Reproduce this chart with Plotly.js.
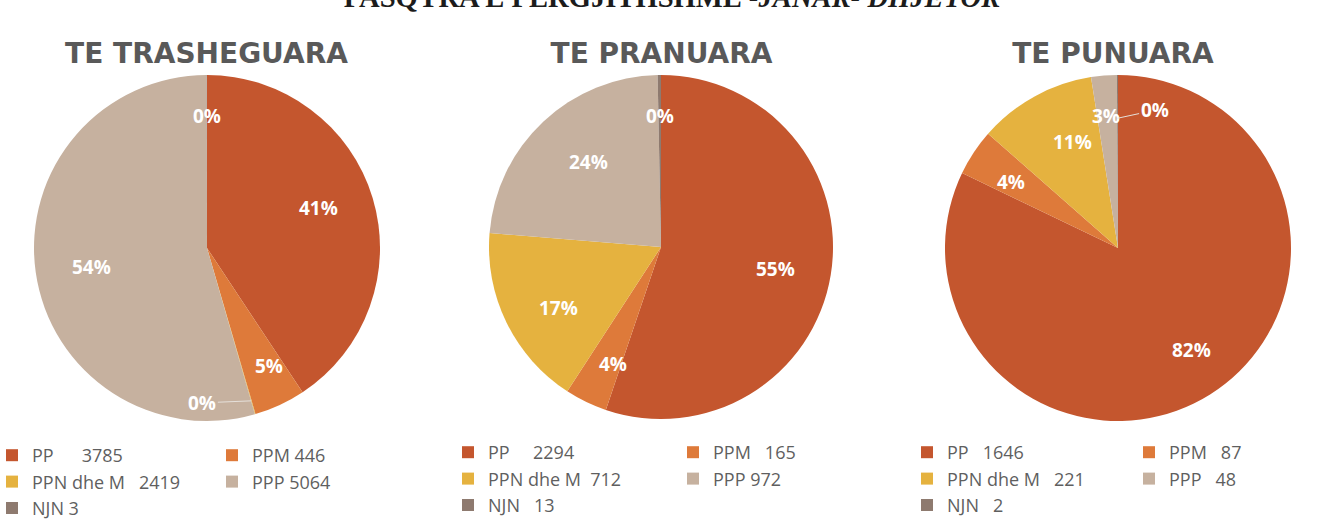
<!DOCTYPE html>
<html>
<head>
<meta charset="utf-8">
<script src="https://cdn.plot.ly/plotly-3.0.1.min.js"></script>
<style>
  html, body { margin:0; padding:0; width:1330px; height:520px; overflow:hidden; background:#ffffff; position:relative; }
  .chart { position:absolute; top:0; height:520px; }
  #c1 { left:-8px; width:456px; }
  #c2 { left:448px; width:480px; }
  #c3 { left:907px; width:460px; }
  #head { position:absolute; left:0; width:1344px; top:-16px; text-align:center;
          font-family:"Liberation Serif", serif; font-weight:bold; font-size:28.6px; line-height:28px;
          color:#1c1c1c; white-space:nowrap; }
</style>
</head>
<body>
<div id="head">PASQYRA E PERGJITHSHME <i>-JANAR- DHJETOR</i></div>
<div id="c1" class="chart"></div>
<div id="c2" class="chart"></div>
<div id="c3" class="chart"></div>
<script>
// ---- data ----
const categories = ["PP", "PPM", "PPN dhe M", "PPP", "NJN"];
const chartTitles = ["TE TRASHEGUARA", "TE PRANUARA", "TE PUNUARA"];

// TE TRASHEGUARA
const trasheguaraLegendValues = [3785, 446, 2419, 5064, 3];
// the pie itself shows PPN dhe M only as a ~0% sliver (41% / 5% / 54% add up without it)
const trasheguaraPieValues = [3785, 446, 5, 5064, 3];
const trasheguaraPct = ["41%", "5%", "0%", "54%", "0%"];
const trasheguaraGaps = [6, 1, 3, 1, 1];

// TE PRANUARA
const pranuaraValues = [2294, 165, 712, 972, 13];
const pranuaraPct = ["55%", "4%", "17%", "24%", "0%"];
const pranuaraGaps = [5, 3, 2, 1, 3];

// TE PUNUARA
const punuaraValues = [1646, 87, 221, 48, 2];
const punuaraPct = ["82%", "4%", "11%", "3%", "0%"];
const punuaraGaps = [3, 3, 3, 3, 3];

// ---- styles ----
const sliceColors = ["#C4562E", "#DE7A3A", "#E5B23F", "#C6B19F", "#8E7A6F"];
const NB = "\u00a0";
const H = 520;

function legendLabels(vals, gaps) {
  return categories.map((c, i) => c + NB.repeat(gaps[i]) + vals[i]);
}

// percentage labels placed along each slice's mid-angle (like the original's data labels)
function labelAnnotations(cfg) {
  const W = cfg.width;
  const cx = W * (cfg.dx[0] + cfg.dx[1]) / 2;
  const cy = H * (1 - (cfg.dy[0] + cfg.dy[1]) / 2);
  const r = Math.min(W * (cfg.dx[1] - cfg.dx[0]), H * (cfg.dy[1] - cfg.dy[0])) / 2;
  const total = cfg.values.reduce((a, b) => a + b, 0);
  let cum = 0;
  const anns = [];
  cfg.values.forEach((v, i) => {
    const frac = v / total;
    const mid = (cum + v / 2) / total * 2 * Math.PI;
    cum += v;
    const leader = cfg.leaders[i];
    const f = leader ? leader.f : (frac < 0.06 ? 0.85 : 0.8);
    const px = cx + f * r * Math.sin(mid);
    const py = cy - f * r * Math.cos(mid);
    const a = {
      x: px / W, y: 1 - py / H, xref: "paper", yref: "paper",
      text: cfg.pct[i], showarrow: false,
      font: { family: "Open Sans", size: 19, color: "#ffffff", weight: "bold" }
    };
    if (leader) {
      a.showarrow = true; a.arrowhead = 0; a.arrowwidth = 1;
      a.arrowcolor = "#e6e0da"; a.ax = leader.ax; a.ay = leader.ay;
    }
    anns.push(a);
  });
  return anns;
}

function makeChart(div, cfg) {
  const trace = {
    type: "pie",
    values: cfg.values,
    labels: legendLabels(cfg.legendValues, cfg.gaps),
    textinfo: "none",
    sort: false,
    direction: "clockwise",
    rotation: 0,
    marker: { colors: sliceColors, line: { width: 0 } },
    domain: { x: cfg.dx, y: cfg.dy },
    hoverinfo: "skip"
  };
  const layout = {
    width: cfg.width, height: H,
    margin: { l: 0, r: 0, t: 0, b: 0, autoexpand: false },
    paper_bgcolor: "rgba(0,0,0,0)",
    plot_bgcolor: "rgba(0,0,0,0)",
    title: {
      text: cfg.title, x: cfg.tx, xref: "container", xanchor: "center",
      y: 1 - 53 / H, yref: "container", yanchor: "middle",
      font: { family: "DejaVu Sans", size: 28, color: "#595959", weight: "bold" }
    },
    showlegend: true,
    legend: {
      orientation: "h", x: 0, xanchor: "left", y: cfg.ly, yanchor: "top",
      entrywidth: cfg.ew, entrywidthmode: "pixels", traceorder: "normal",
      font: { family: "Open Sans", size: 18, color: "#5f5f5f" },
      bgcolor: "rgba(0,0,0,0)"
    },
    annotations: labelAnnotations(cfg)
  };
  Plotly.newPlot(div, [trace], layout, { staticPlot: true, displayModeBar: false });
}

makeChart("c1", {
  width: 456, title: chartTitles[0], tx: 0.4704,
  values: trasheguaraPieValues, legendValues: trasheguaraLegendValues,
  pct: trasheguaraPct, gaps: trasheguaraGaps,
  leaders: [null, null, { f: 0.92, ax: -49, ay: 2 }, null, null],
  dx: [0.0921, 0.8509], dy: [0.1904, 0.8558], ly: 1 - 437 / H, ew: 175
});
makeChart("c2", {
  width: 480, title: chartTitles[1], tx: 0.4448,
  values: pranuaraValues, legendValues: pranuaraValues,
  pct: pranuaraPct, gaps: pranuaraGaps,
  leaders: [null, null, null, null, null],
  dx: [0.0854, 0.8021], dy: [0.1942, 0.8558], ly: 1 - 434 / H, ew: 180
});
makeChart("c3", {
  width: 460, title: chartTitles[2], tx: 0.4478,
  values: punuaraValues, legendValues: punuaraValues,
  pct: punuaraPct, gaps: punuaraGaps,
  leaders: [null, null, null, null, { f: 0.75, ax: 37, ay: -8 }],
  dx: [0.0826, 0.8348], dy: [0.1904, 0.8558], ly: 1 - 434 / H, ew: 177
});
</script>
</body>
</html>
